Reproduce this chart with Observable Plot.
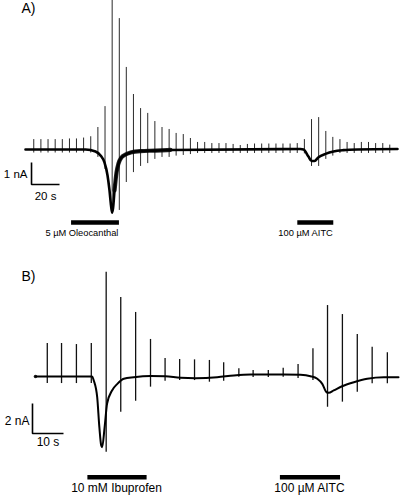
<!DOCTYPE html>
<html>
<head>
<meta charset="utf-8">
<script src="https://cdn.jsdelivr.net/npm/d3@7"></script>
<script src="https://cdn.jsdelivr.net/npm/@observablehq/plot@0.6"></script>
<style>
  html, body { margin: 0; padding: 0; background: #fff; }
  #chart { width: 400px; height: 497px; position: relative; overflow: hidden; }
  #chart svg { display: block; }
</style>
</head>
<body>
<div id="chart"></div>
<script>
// ---------- Panel A data (time in s, current in nA) ----------
const aSpikeTime = [5.9,11.0,16.1,21.2,26.3,31.4,36.4,41.5,46.6,51.7,56.8,61.9,67.0,72.0,77.1,82.2,87.3,92.4,97.5,102.6,107.6,112.7,117.8,122.9,128.0,133.1,138.2,143.2,148.3,153.4,158.5,163.6,168.7,173.8,178.9,183.9,189.0,194.1,199.2,204.3,209.4,214.5,219.5,224.6,229.7,234.8,239.9,245.0,250.1,255.2,260.2];
const aSpikeTop = [0.45,0.45,0.45,0.45,0.45,0.48,0.48,0.52,0.58,1.0,1.95,6.8,5.95,3.73,2.5,1.86,1.64,1.27,1.0,0.91,0.73,0.68,0.5,0.32,0.32,0.27,0.27,0.27,0.23,0.18,0.23,0.25,0.25,0.25,0.25,0.25,0.25,0.27,0.45,1.36,1.45,0.82,0.55,0.45,0.32,0.27,0.32,0.32,0.27,0.27,0.2];
const aSpikeBottom = [-0.16,-0.16,-0.16,-0.16,-0.16,-0.16,-0.16,-0.16,-0.16,-0.36,-0.91,-2.95,-2.77,-1.5,-1.05,-0.77,-0.64,-0.45,-0.36,-0.36,-0.3,-0.27,-0.23,-0.18,-0.18,-0.18,-0.18,-0.18,-0.18,-0.18,-0.18,-0.18,-0.18,-0.18,-0.18,-0.18,-0.18,-0.18,-0.2,-0.77,-0.77,-0.45,-0.3,-0.18,-0.18,-0.18,-0.18,-0.18,-0.18,-0.18,-0.18];
const aTraceTime = [0,42.9,50,53.6,56.4,58.6,60,61.1,61.8,62.5,63.6,65,66.4,68.6,71.4,75,82.1,92.9,103.6,196.4,198.6,202.1,204.3,206.4,209.3,214.3,220,227.1,237.1,265.7];
const aTraceCurrent = [0,0,-0.09,-0.27,-0.59,-1.18,-1.86,-2.55,-2.86,-2.68,-1.86,-1.05,-0.64,-0.36,-0.23,-0.14,-0.07,-0.05,-0.02,0.02,0,-0.32,-0.52,-0.52,-0.35,-0.2,-0.09,-0.03,0,0.02];
// time window where the recorded trace is visibly noisier (thicker band)
const aNoisyFrom = 63;
const aNoisyTo = 110;
const aDrugStart = [32.9, 194.5];
const aDrugEnd = [67.1, 220.2];
const aDrugLabel = ["5 µM Oleocanthal", "100 µM AITC"];
const aScaleTime = 20;      // s
const aScaleCurrent = 1;    // nA
const aScaleLabels = ["1 nA", "20 s"];

// ---------- Panel B data ----------
const bSpikeTime = [3.8,8.4,13.2,18.0,22.8,27.5,32.3,37.1,41.8,46.5,51.3,56.1,60.7,65.6,70.2,75.1,79.9,84.7,89.5,94.2,99.0,103.8,108.6,113.5];
const bSpikeTop = [2.2,2.2,2.13,2.2,6.95,5.27,4.27,2.47,1.2,1.13,1.11,1.07,0.91,0.51,0.4,0.4,0.55,0.8,1.85,4.73,4.13,2.8,1.95,1.58];
const bSpikeBottom = [-0.47,-0.47,-0.47,-0.47,-5.05,-2.38,-1.65,-0.71,-0.31,-0.27,-0.27,-0.38,-0.31,-0.05,-0.07,-0.07,-0.05,-0.13,-0.27,-2.05,-1.71,-1.05,-0.49,-0.49];
const bTraceTime = [0,18.3,18.8,19.9,20.6,21.2,21.5,22.3,23.1,24.7,26.4,28.5,31.7,37.1,41.9,46.8,51.6,58.6,64.0,69.4,80.1,85.5,88.7,90.9,92.5,93.9,94.6,96.2,98.9,102.7,107.0,112.4,117.1];
const bTraceCurrent = [0,0,-0.27,-1.38,-3.38,-4.6,-4.71,-3.38,-1.8,-0.93,-0.49,-0.15,-0.05,0.03,0.02,-0.09,-0.11,-0.05,0.07,0.13,0.13,0.11,0.02,-0.15,-0.49,-1.05,-1.09,-0.93,-0.65,-0.38,-0.15,-0.05,-0.05];
const bNoisyFrom = 0;
const bNoisyTo = 0;
const bDrugStart = [16.9, 79.0];
const bDrugEnd = [36.0, 98.4];
const bDrugLabel = ["10 mM Ibuprofen", "100 µM AITC"];
const bScaleTime = 10;
const bScaleCurrent = 2;
const bScaleLabels = ["2 nA", "10 s"];

const FONT = "'Liberation Sans', Arial, Helvetica, sans-serif";

function panel(o) {
  const spikes = o.spikeTime.map((t, i) => ({t, top: o.spikeTop[i], bottom: o.spikeBottom[i]}));
  const trace = o.traceTime.map((t, i) => ({t, I: o.traceCurrent[i]}));
  const noisy = trace.filter(d => d.t >= o.noisyFrom && d.t <= o.noisyTo);
  const drugs = o.drugStart.map((s, i) => ({start: s, end: o.drugEnd[i], label: o.drugLabel[i]}));
  const sx = o.scaleX, sy = o.scaleY;
  const scaleBar = [
    {t: sx, I: sy + o.scaleCurrent},
    {t: sx, I: sy},
    {t: sx + o.scaleTime, I: sy}
  ];
  return Plot.plot({
    width: 400,
    height: o.height,
    margin: 0,
    style: {fontFamily: FONT, background: "#fff", color: "#000", overflow: "hidden"},
    x: {domain: o.xDomain, range: o.xRange, axis: null},
    y: {domain: o.yDomain, range: [o.height, 0], axis: null},
    marks: [
      Plot.ruleX(spikes, {x: "t", y1: "bottom", y2: "top", stroke: o.spikeColor, strokeWidth: o.spikeWidth}),
      Plot.line(trace, {x: "t", y: "I", curve: "monotone-x", stroke: "#000", strokeWidth: o.traceWidth}),
      Plot.line(noisy, {x: "t", y: "I", curve: "monotone-x", stroke: "#000", strokeWidth: o.traceWidth + 1.6, strokeOpacity: 0.85}),
      Plot.ruleY(drugs, {y: () => o.barLevel, x1: "start", x2: "end", stroke: "#000", strokeWidth: 4.5}),
      Plot.text(drugs, {
        x: o.labelAtEnd ? "end" : (d => (d.start + d.end) / 2),
        y: () => o.barLevel, text: "label",
        textAnchor: o.labelAtEnd ? "end" : "middle",
        dx: o.labelDx, dy: o.labelDy, fontSize: o.labelSize, fill: "#000"
      }),
      Plot.line(scaleBar, {x: "t", y: "I", stroke: "#000", strokeWidth: 1.6, strokeLinejoin: "miter", strokeLinecap: "butt"}),
      Plot.text([o.scaleLabels[0]], {x: () => sx, y: () => sy + o.scaleCurrent / 2, text: d => d, textAnchor: "end", dx: o.nALabelDx, dy: o.nALabelDy, fontSize: o.scaleSize, fill: "#000"}),
      Plot.text([o.scaleLabels[1]], {x: () => sx + o.scaleTime / 2, y: () => sy, text: d => d, textAnchor: "middle", dy: o.sLabelDy, fontSize: o.scaleSize, fill: "#000"}),
      Plot.text([o.panelLabel], {frameAnchor: "top-left", text: d => d, textAnchor: "start", lineAnchor: "top", dx: 21, dy: o.panelDy, fontSize: 14, fill: "#000"})
    ]
  });
}

const chart = document.getElementById("chart");

chart.appendChild(panel({
  height: 245,
  xDomain: [0, 375 / 1.4], xRange: [25, 400],
  yDomain: [-96 / 22, 149 / 22],
  spikeTime: aSpikeTime, spikeTop: aSpikeTop, spikeBottom: aSpikeBottom,
  traceTime: aTraceTime, traceCurrent: aTraceCurrent,
  noisyFrom: aNoisyFrom, noisyTo: aNoisyTo,
  drugStart: aDrugStart, drugEnd: aDrugEnd, drugLabel: aDrugLabel,
  scaleTime: aScaleTime, scaleCurrent: aScaleCurrent, scaleLabels: aScaleLabels,
  scaleX: 4.3, scaleY: -1.59,
  barLevel: -3.32, labelAtEnd: true, labelDx: -1, labelDy: 10, labelSize: 9.3,
  nALabelDx: -4, nALabelDy: 1, sLabelDy: 12, scaleSize: 11.5,
  spikeColor: "#2a2a2a", spikeWidth: 1, traceWidth: 2.6,
  panelLabel: "A)", panelDy: 3
}));

chart.appendChild(panel({
  height: 252,
  xDomain: [0, 365 / 3.1], xRange: [35, 400],
  yDomain: [-121 / 15, 131 / 15],
  spikeTime: bSpikeTime, spikeTop: bSpikeTop, spikeBottom: bSpikeBottom,
  traceTime: bTraceTime, traceCurrent: bTraceCurrent,
  noisyFrom: bNoisyFrom, noisyTo: bNoisyTo,
  drugStart: bDrugStart, drugEnd: bDrugEnd, drugLabel: bDrugLabel,
  scaleTime: bScaleTime, scaleCurrent: bScaleCurrent, scaleLabels: bScaleLabels,
  scaleX: -0.97, scaleY: -3.8,
  barLevel: -6.71, labelAtEnd: false, labelDx: -1, labelDy: 11, labelSize: 12,
  nALabelDx: -3, nALabelDy: 3, sLabelDy: 9, scaleSize: 12,
  spikeColor: "#111", spikeWidth: 1.3, traceWidth: 2,
  panelLabel: "B)", panelDy: 26
}));
</script>
</body>
</html>
